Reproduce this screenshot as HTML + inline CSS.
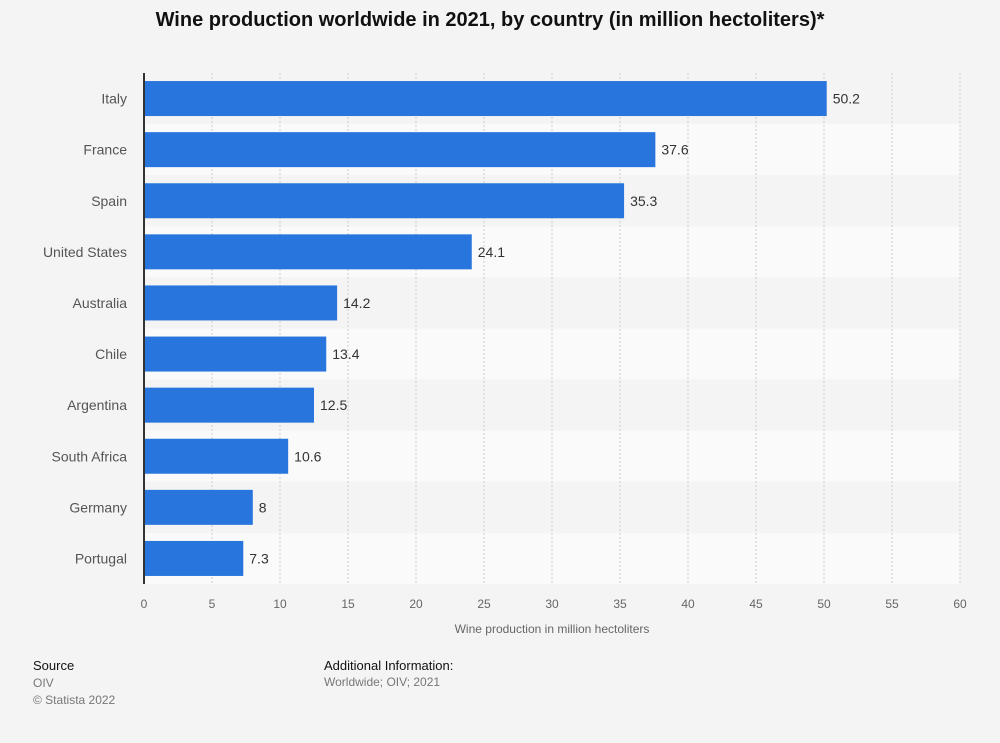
<!DOCTYPE html>
<html><head><meta charset="utf-8"><style>
body{margin:0;background:#f4f4f4;font-family:"Liberation Sans",sans-serif;}
#wrap{position:relative;width:1000px;height:743px;}
.t{position:absolute;}
</style></head><body>
<div id="wrap">
<div class="t" style="left:0;width:980px;top:9px;text-align:center;font-weight:bold;font-size:20px;color:#111">Wine production worldwide in 2021, by country (in million hectoliters)*</div>
<svg id="chart" width="1000" height="743" style="position:absolute;left:0;top:0"></svg>
<div class="t" style="left:33px;top:658px;font-size:13px;color:#111">Source</div>
<div class="t" style="left:33px;top:675px;font-size:12px;color:#777;line-height:17px">OIV<br>© Statista 2022</div>
<div class="t" style="left:324px;top:658px;font-size:13px;color:#111">Additional Information:</div>
<div class="t" style="left:324px;top:675px;font-size:12px;color:#777">Worldwide; OIV; 2021</div>
</div>
<script>
const categories=["Italy","France","Spain","United States","Australia","Chile","Argentina","South Africa","Germany","Portugal"];
const values=[50.2,37.6,35.3,24.1,14.2,13.4,12.5,10.6,8,7.3];
const ticks=[0,5,10,15,20,25,30,35,40,45,50,55,60];
const svg=document.getElementById('chart');
const NS='http://www.w3.org/2000/svg';
const x0=144,x1=960,xmax=60,plotTop=73,plotBot=584;
const xs=v=>x0+(x1-x0)*v/xmax;
const rh=(plotBot-plotTop)/categories.length;
const ys=i=>plotTop+rh*i;
function mk(t,a){const e=document.createElementNS(NS,t);for(const k in a)e.setAttribute(k,a[k]);svg.appendChild(e);return e;}
categories.forEach((c,i)=>{
 const r=mk('rect',{x:x0,y:ys(i),width:x1-x0,height:rh,fill:i%2?'#fafafa':'#f4f4f4'});
 
 
});
ticks.forEach(t=>{
 if(t>0){const l=mk('line',{x1:xs(t),x2:xs(t),y1:plotTop,y2:plotBot,stroke:'#ccc','stroke-dasharray':'2,2'});
 
 }
 const tx=mk('text',{x:xs(t),y:608,'text-anchor':'middle','font-size':12,fill:'#666'});
 tx.textContent=t;
 
 
});
categories.forEach((c,i)=>{
 const cy=ys(i)+rh/2;
 const b=mk('rect',{x:x0,y:cy-17.5,width:xs(values[i])-x0,height:35,fill:'#2876dd'});
 
 
 const lb=mk('text',{x:127,y:cy+5,'text-anchor':'end','font-size':14,fill:'#555'});
 lb.textContent=c;
 
 
 const vl=mk('text',{x:xs(values[i])+6,y:cy+5,'font-size':14,fill:'#333'});
 vl.textContent=values[i];
 
 
});
const ax=mk('line',{x1:x0,x2:x0,y1:plotTop,y2:plotBot,stroke:'#333','stroke-width':2});


const xt=mk('text',{x:552,y:633,'text-anchor':'middle','font-size':12,fill:'#666'});
xt.textContent='Wine production in million hectoliters';


</script>
</body></html>
